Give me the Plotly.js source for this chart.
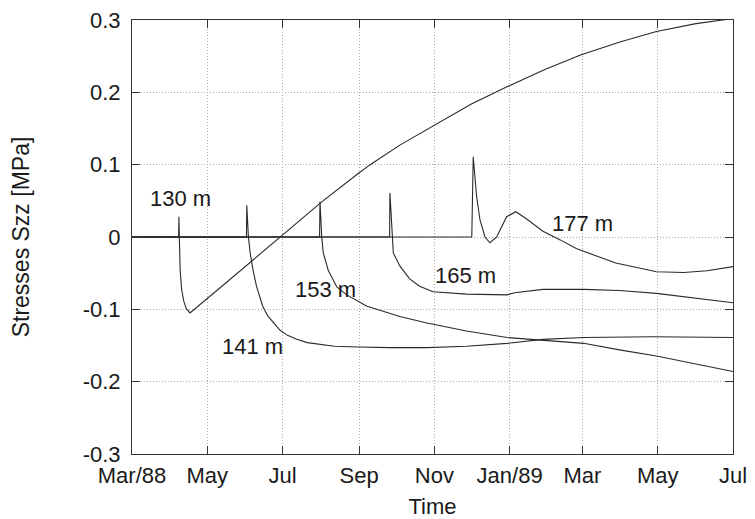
<!DOCTYPE html>
<html>
<head>
<meta charset="utf-8">
<script src="https://cdn.plot.ly/plotly-3.0.1.min.js"></script>
<style>html,body{margin:0;padding:0;background:#fff;}#chart{width:755px;height:519px;}</style>
</head>
<body>
<div id="chart"></div>
<script>
// ---- data ----
const dates130 = ["1988-03-01","1988-04-07 18:00","1988-04-08 00:00","1988-04-08 10:00","1988-04-09 00:00","1988-04-10 06:00","1988-04-12 00:00","1988-04-14 00:00","1988-04-17 00:00","1988-05-15","1988-06-06","1988-06-29","1988-07-15","1988-08-02","1988-08-30","1988-09-10","1988-10-04","1988-10-31","1988-12-01","1988-12-29","1989-01-30","1989-02-28","1989-04-01","1989-04-30","1989-06-01","1989-07-01"];
const s130 = [0,0,0.028,-0.022,-0.046,-0.073,-0.089,-0.099,-0.105,-0.065,-0.033,0.0,0.0235,0.049,0.086,0.100,0.127,0.154,0.184,0.207,0.232,0.252,0.270,0.284,0.295,0.302];

const dates141 = ["1988-03-01","1988-06-01 18:00","1988-06-02 00:00","1988-06-03 08:00","1988-06-04 18:00","1988-06-07","1988-06-10","1988-06-15","1988-06-19","1988-06-24","1988-06-29","1988-07-05","1988-07-12","1988-07-21","1988-08-12","1988-08-31","1988-09-26","1988-10-26","1988-11-27","1988-12-30","1989-01-28","1989-03-02","1989-04-27","1989-07-01"];
const s141 = [0,0,0.044,0.0,-0.022,-0.045,-0.069,-0.096,-0.109,-0.119,-0.129,-0.136,-0.141,-0.146,-0.151,-0.152,-0.153,-0.153,-0.151,-0.147,-0.1415,-0.139,-0.138,-0.139];

const dates153 = ["1988-03-01","1988-07-31 00:00","1988-07-31 08:00","1988-08-01 18:00","1988-08-03 00:00","1988-08-07","1988-08-14","1988-08-22","1988-09-07","1988-09-29","1988-10-04","1988-10-26","1988-11-27","1988-12-30","1989-01-28","1989-03-02","1989-03-31","1989-04-30","1989-07-01"];
const s153 = [0,0,0.049,0.0,-0.022,-0.046,-0.069,-0.080,-0.0955,-0.108,-0.110,-0.119,-0.130,-0.139,-0.1425,-0.147,-0.156,-0.1646,-0.186];

const dates165 = ["1988-03-01","1988-09-25 18:00","1988-09-26 00:00","1988-09-27 16:00","1988-09-28 18:00","1988-10-04","1988-10-12","1988-10-20","1988-10-31","1988-11-27","1988-12-30","1989-01-05","1989-01-28","1989-03-02","1989-03-31","1989-04-30","1989-07-01"];
const s165 = [0,0,0.061,0.0,-0.022,-0.040,-0.058,-0.068,-0.0757,-0.079,-0.080,-0.077,-0.0724,-0.0724,-0.074,-0.078,-0.091];

const dates177 = ["1988-03-01","1988-12-01 08:00","1988-12-02 12:00","1988-12-03 22:00","1988-12-05 06:00","1988-12-08","1988-12-12","1988-12-16","1988-12-21 12:00","1988-12-29 14:00","1989-01-06","1989-01-14","1989-01-28","1989-02-11","1989-02-24","1989-03-28","1989-04-30","1989-05-22","1989-06-10","1989-07-01"];
const s177 = [0,0,0.111,0.083,0.056,0.0235,0.0,-0.008,0.0,0.028,0.035,0.026,0.008,-0.004,-0.016,-0.036,-0.048,-0.049,-0.0466,-0.041];

const seriesNames = ["130 m","141 m","153 m","165 m","177 m"];
const labelDates = ["1988-04-09","1988-06-07","1988-08-05","1988-11-26","1989-03-01"];
const labelValues = [0.0526,-0.151,-0.073,-0.0526,0.018];

const xTickVals = ["1988-03-01","1988-05-01","1988-07-01","1988-09-01","1988-11-01","1989-01-01","1989-03-01","1989-05-01","1989-07-01"];
const xTickText = ["Mar/88","May","Jul","Sep","Nov","Jan/89","Mar","May","Jul"];
const yTickVals = [-0.3,-0.2,-0.1,0,0.1,0.2,0.3];
const yTickText = ["-0.3","-0.2","-0.1","0","0.1","0.2","0.3"];

// ---- chart ----
const FONT = "Liberation Sans, Arial, Helvetica, sans-serif";
const lineStyle = {color:"#2a2a2a", width:1.1};
const xs = [dates130,dates141,dates153,dates165,dates177];
const ys = [s130,s141,s153,s165,s177];
const traces = xs.map((x,i)=>({x:x, y:ys[i], type:"scatter", mode:"lines", name:seriesNames[i], line:lineStyle, hoverinfo:"x+y+name"}));

const annotations = seriesNames.map((t,i)=>({
  x:labelDates[i], y:labelValues[i], xref:"x", yref:"y", text:t, showarrow:false,
  font:{family:FONT, size:22, color:"#1a1a1a"}, xanchor:"center", yanchor:"middle"
}));

const axisCommon = {
  showline:true, mirror:"ticks", linecolor:"#333", linewidth:1,
  ticks:"inside", ticklen:8, tickcolor:"#333", tickwidth:1,
  showgrid:true, gridcolor:"#aaaaaa", griddash:"1px,2px", gridwidth:1,
  zeroline:false, tickfont:{family:FONT, size:22, color:"#1a1a1a"}
};

const layout = {
  width:755, height:519,
  margin:{l:132, r:22, t:20, b:65},
  paper_bgcolor:"#fff", plot_bgcolor:"#fff",
  showlegend:false,
  font:{family:FONT, color:"#1a1a1a"},
  xaxis:Object.assign({}, axisCommon, {
    type:"date", range:["1988-03-01","1989-07-01"],
    tickmode:"array", tickvals:xTickVals, ticktext:xTickText,
    ticklabelstandoff:2,
    title:{text:"Time", font:{family:FONT, size:22, color:"#1a1a1a"}, standoff:14}
  }),
  yaxis:Object.assign({}, axisCommon, {
    range:[-0.3,0.3],
    tickmode:"array", tickvals:yTickVals, ticktext:yTickText,
    ticklabelstandoff:6,
    title:{text:"Stresses Szz [MPa]", font:{family:FONT, size:23, color:"#1a1a1a"}, standoff:46}
  }),
  annotations:annotations
};

Plotly.newPlot("chart", traces, layout, {displayModeBar:false});
</script>
</body>
</html>
